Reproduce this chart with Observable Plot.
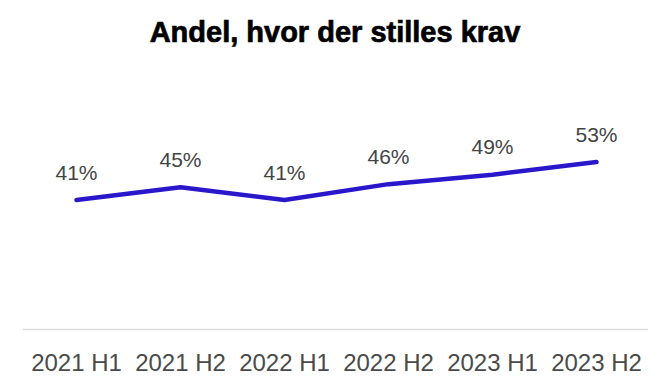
<!DOCTYPE html>
<html>
<head>
<meta charset="utf-8">
<script src="https://cdn.jsdelivr.net/npm/d3@7"></script>
<script src="https://cdn.jsdelivr.net/npm/@observablehq/plot@0.6"></script>
<style>
  html, body { margin: 0; padding: 0; background: #fff; }
  #wrap { position: relative; width: 666px; height: 385px; overflow: hidden; }
  #title { position: absolute; left: 0; top: 18px; width: 666px; text-align: center;
    font-family: "Liberation Sans", Arial, sans-serif; font-weight: bold; font-size: 29px;
    line-height: 28px; color: #000; padding-left: 4px; box-sizing: border-box;
    -webkit-text-stroke: 0.7px #000; }
  #chart { position: absolute; left: 0; top: 60px; }
</style>
</head>
<body>
<div id="wrap">
  <div id="title">Andel, hvor der stilles krav</div>
  <div id="chart"></div>
</div>
<script>
const periods = ["2021 H1", "2021 H2", "2022 H1", "2022 H2", "2023 H1", "2023 H2"];
const shares = [41, 45, 41, 46, 49, 53];
const labels = ["41%", "45%", "41%", "46%", "49%", "53%"];

const data = periods.map((p, i) => ({period: p, share: shares[i], label: labels[i]}));

const chart = Plot.plot({
  width: 666,
  height: 325,
  marginLeft: 23,
  marginRight: 18,
  marginTop: 32,
  marginBottom: 56,
  style: {fontFamily: "'Liberation Sans', Arial, sans-serif", background: "transparent"},
  x: {type: "point", domain: periods, padding: 0.5, axis: null},
  y: {domain: [0, 75], axis: null},
  marks: [
    Plot.ruleY([0], {stroke: "#dcdcdc", strokeWidth: 1.5}),
    Plot.text(periods, {x: d => d, frameAnchor: "bottom", dy: 34, lineAnchor: "middle", fontSize: 24, fill: "#4a4a4a"}),
    Plot.line(data, {x: "period", y: "share", stroke: "#2a17cc", strokeWidth: 4.5, strokeLinecap: "round", strokeLinejoin: "round"}),
    Plot.text(data, {x: "period", y: "share", text: "label", dy: -27, lineAnchor: "middle", fontSize: 21, fill: "#444"})
  ]
});
document.getElementById("chart").appendChild(chart);
</script>
</body>
</html>
